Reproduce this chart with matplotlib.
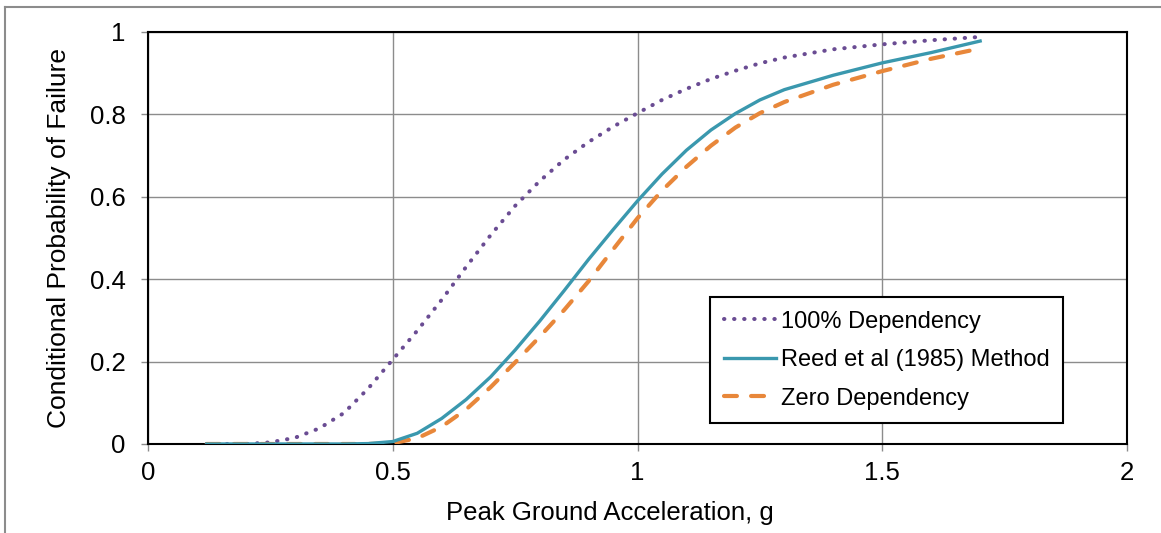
import numpy as np
import matplotlib
matplotlib.use('Agg')
import matplotlib.pyplot as plt
from matplotlib.lines import Line2D

plt.rcParams['font.family'] = ['Liberation Sans', 'DejaVu Sans']

# peak ground acceleration (g)
pga = [0.12, 0.2, 0.25, 0.3, 0.35, 0.4, 0.45, 0.5, 0.55, 0.6, 0.65, 0.7, 0.75, 0.8,
       0.85, 0.9, 0.95, 1.0, 1.05, 1.1, 1.15, 1.2, 1.25, 1.3, 1.4, 1.5, 1.6, 1.7]

# conditional probability of failure
full_dep = [0.0, 0.0, 0.004, 0.015, 0.038, 0.075, 0.135, 0.205, 0.275, 0.35, 0.43, 0.507,
            0.578, 0.638, 0.69, 0.733, 0.77, 0.803, 0.835, 0.862, 0.886, 0.906, 0.924, 0.938,
            0.958, 0.97, 0.98, 0.988]
reed = [0.0, 0.0, 0.0, 0.0, 0.0, 0.0, 0.001, 0.006, 0.026, 0.062, 0.108, 0.163, 0.228, 0.298,
        0.372, 0.448, 0.52, 0.59, 0.655, 0.713, 0.762, 0.802, 0.835, 0.86, 0.895, 0.925,
        0.95, 0.978]
zero_dep = [0.0, 0.0, 0.0, 0.0, 0.0, 0.0, 0.0, 0.002, 0.014, 0.042, 0.084, 0.138, 0.198, 0.26,
            0.325, 0.395, 0.472, 0.548, 0.615, 0.673, 0.724, 0.768, 0.803, 0.83, 0.872, 0.905,
            0.935, 0.96]

fig = plt.figure(figsize=(11.61, 5.33), dpi=100)
ax = fig.add_axes([0.1275, 0.167, 0.8432, 0.773])

ax.plot(pga, full_dep, color='#6A4C93', lw=2.9, linestyle=(0, (0.1, 2.4)),
        dash_capstyle='round', label='100% Dependency', zorder=3)
ax.plot(pga, reed, color='#3A98AE', lw=2.4, label='Reed et al (1985) Method', zorder=4)
ax.plot(pga, zero_dep, color='#E8873A', lw=3.0, linestyle=(0, (3.1, 3.4)),
        dash_capstyle='round', label='Zero Dependency', zorder=3)

ax.set_xlim(0, 2)
ax.set_ylim(0, 1)
ax.set_xticks([0, 0.5, 1, 1.5, 2])
ax.set_xticklabels(['0', '0.5', '1', '1.5', '2'])
ax.set_yticks([0, 0.2, 0.4, 0.6, 0.8, 1])
ax.set_yticklabels(['0', '0.2', '0.4', '0.6', '0.8', '1'])
ax.grid(True, color='#8c8c8c', lw=1.0)
ax.set_axisbelow(True)
ax.tick_params(direction='out', length=5, width=1, color='#8c8c8c', labelsize=18.5)
ax.tick_params(axis='y', pad=11)
ax.tick_params(axis='x', pad=7)
for s in ax.spines.values():
    s.set_color('black')
    s.set_linewidth(1.5)

ax.set_xlabel('Peak Ground Acceleration, g', fontsize=18.5)
ax.xaxis.set_label_coords(0.472, -0.138)
ax.set_ylabel('Conditional Probability of Failure', fontsize=19)
ax.yaxis.set_label_coords(-0.079, 0.5)

leg = ax.legend(loc='upper right', bbox_to_anchor=(0.935, 0.357), fontsize=17,
                frameon=True, fancybox=False, framealpha=1, edgecolor='black',
                handlelength=2.2, handletextpad=0.22, labelspacing=0.7,
                borderpad=0.58, borderaxespad=0)
leg.get_frame().set_linewidth(1.5)

# outer chart border (gray)
fig.add_artist(Line2D([5 / 1161, 5 / 1161], [0, 1 - 7 / 533], transform=fig.transFigure,
                      color='#8c8c8c', lw=1.5))
fig.add_artist(Line2D([5 / 1161, 1], [1 - 7 / 533, 1 - 7 / 533], transform=fig.transFigure,
                      color='#8c8c8c', lw=1.5))

fig.savefig('out.png', dpi=100)
